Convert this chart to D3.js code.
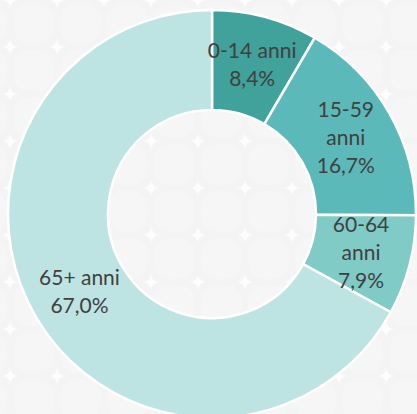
<!DOCTYPE html>
<html>
<head>
<meta charset="utf-8">
<script src="https://cdn.jsdelivr.net/npm/d3@7"></script>
<style>
  html, body { margin: 0; padding: 0; background: #f5f5f5; }
  svg { display: block; }
</style>
</head>
<body>
<svg width="417" height="414"></svg>
<script>
const categories = ["0-14 anni", "15-59 anni", "60-64 anni", "65+ anni"];
const values = [8.4, 16.7, 7.9, 67.0];
const labelLines = [["0-14 anni", "8,4%"], ["15-59", "anni", "16,7%"], ["60-64", "anni", "7,9%"], ["65+ anni", "67,0%"]];
const colors = ["#41a19b", "#5bbab9", "#80cbc5", "#bee3e3"];

const svg = d3.select("svg"),
    width = +svg.attr("width"),
    height = +svg.attr("height");

// soft background texture
const defs = svg.append("defs");
const pat = defs.append("pattern")
    .attr("id", "bg")
    .attr("width", 47).attr("height", 47)
    .attr("patternUnits", "userSpaceOnUse")
    .attr("x", 10).attr("y", 0);
pat.append("rect").attr("width", 47).attr("height", 47).attr("fill", "#f4f4f4");
pat.append("rect").attr("x", 3).attr("y", 3).attr("width", 41).attr("height", 41)
    .attr("rx", 16).attr("fill", "#f6f6f6");
const star = "M0,-8 Q0.8,-0.8 8,0 Q0.8,0.8 0,8 Q-0.8,0.8 -8,0 Q-0.8,-0.8 0,-8Z";
[[0, 0], [47, 0], [0, 47], [47, 47]].forEach(p => {
  pat.append("path").attr("d", star).attr("transform", `translate(${p[0]},${p[1]})`)
      .attr("fill", "#ffffff").attr("opacity", 0.8);
});

svg.append("rect").attr("width", width).attr("height", height).attr("fill", "url(#bg)");

const cx = 212, cy = 214;
const outerR = 204, innerR = 104;

const pie = d3.pie().sort(null).value(d => d);
const arc = d3.arc().innerRadius(innerR).outerRadius(outerR);

const g = svg.append("g").attr("transform", `translate(${cx},${cy})`);

const arcs = pie(values);

g.selectAll("path")
    .data(arcs)
    .enter().append("path")
    .attr("d", arc)
    .attr("fill", (d, i) => colors[i])
    .attr("stroke", "#ffffff")
    .attr("stroke-width", 2.5)
    .attr("stroke-linejoin", "miter");

const lineH = 28;
const label = g.selectAll("text")
    .data(arcs)
    .enter().append("text")
    .attr("transform", d => `translate(${arc.centroid(d)})`)
    .attr("text-anchor", "middle")
    .attr("font-family", "Lato, 'Open Sans', sans-serif")
    .attr("font-size", 21)
    .attr("fill", "#404040");

label.each(function(d, i) {
  const lines = labelLines[i];
  const t = d3.select(this);
  lines.forEach((ln, j) => {
    t.append("tspan")
        .attr("x", 0)
        .attr("y", (j - (lines.length - 1) / 2) * lineH + 7)
        .text(ln);
  });
});
</script>
</body>
</html>
